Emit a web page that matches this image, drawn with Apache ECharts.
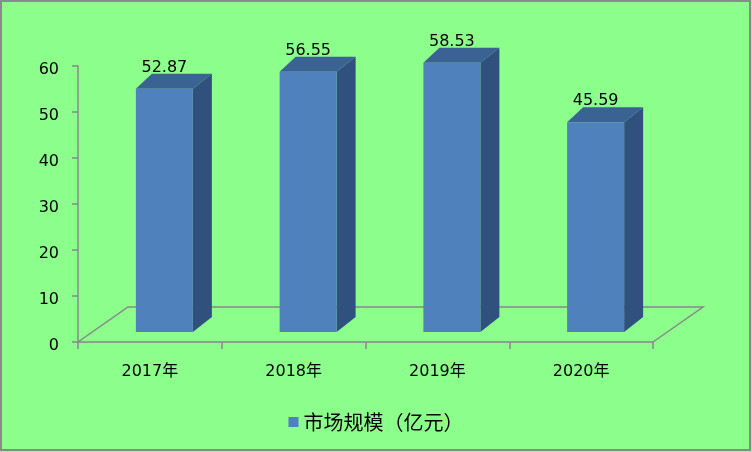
<!DOCTYPE html>
<html>
<head>
<meta charset="utf-8">
<script src="https://cdn.jsdelivr.net/npm/echarts@6/dist/echarts.min.js"></script>
<style>
html,body{margin:0;padding:0;background:#8CFE8C;}
#c{width:752px;height:452px;}
</style>
</head>
<body>
<div id="c"></div>
<script>
var categories = ['2017年', '2018年', '2019年', '2020年'];
var values = [52.87, 56.55, 58.53, 45.59];
var seriesName = '市场规模（亿元）';
var yTicks = [0, 10, 20, 30, 40, 50, 60];

var FONT = "'DejaVu Sans', 'Noto Sans CJK SC', sans-serif";
var CJK = "'Noto Sans CJK SC', sans-serif";
var FRONT = '#4F81BD', SIDE = '#30507D', TOP = '#3A6293';
var GRAY = '#888888';

var chart = echarts.init(document.getElementById('c'));

function floorItem(params, api) {
  var c0 = api.coord([0, 0]);
  var c3 = api.coord([categories.length - 1, 0]);
  var w = api.size([1, 0])[0];
  var xl = c0[0] - w / 2, xr = c3[0] + w / 2, y = c0[1];
  var dx = 50, dy = -35;
  return {
    type: 'polyline',
    shape: { points: [[xl, y], [xl + dx, y + dy], [xr + dx, y + dy], [xr, y]] },
    style: { stroke: GRAY, lineWidth: 1.5, fill: null }
  };
}

function barItem(params, api) {
  var idx = api.value(0), val = api.value(1);
  var base = api.coord([idx, 0]);
  var topPt = api.coord([idx, val]);
  var cx = base[0] + 14.5;
  var x0 = cx - 28.5, x1 = cx + 28.5;
  var yb = base[1] - 10, yt = topPt[1] - 10;
  var ddxL = 16, ddxR = 19, ddy = -15;
  return {
    type: 'group',
    children: [
      { type: 'polygon', shape: { points: [[x1, yb], [x1, yt], [x1 + ddxR, yt + ddy], [x1 + ddxR, yb + ddy]] },
        style: { fill: SIDE } },
      { type: 'polygon', shape: { points: [[x0, yt], [x0 + ddxL, yt + ddy], [x1 + ddxR, yt + ddy], [x1, yt]] },
        style: { fill: TOP } },
      { type: 'rect', shape: { x: x0, y: yt, width: x1 - x0, height: yb - yt },
        style: { fill: FRONT } },
      { type: 'text', x: cx, y: yt - 21,
        style: { text: String(val.toFixed(2)), fill: '#000', font: '16px ' + FONT, align: 'center', verticalAlign: 'middle' } }
    ]
  };
}

chart.setOption({
  backgroundColor: '#8CFE8C',
  animation: false,
  graphic: [{
    type: 'rect', z: 100, silent: true,
    shape: { x: 1, y: 1, width: 749, height: 449 },
    style: { fill: null, stroke: '#8a8a8a', lineWidth: 2 }
  }],
  grid: { left: 78, right: 99, top: 66, bottom: 110 },
  legend: {
    data: [{ name: seriesName, icon: 'rect' }],
    left: 'center', top: 407,
    itemWidth: 10, itemHeight: 10, itemGap: 6,
    textStyle: { fontSize: 20, fontFamily: CJK, color: '#000' }
  },
  xAxis: {
    type: 'category', data: categories,
    axisLine: { show: true, lineStyle: { color: GRAY, width: 1.5 } },
    axisTick: { show: true, length: 7, lineStyle: { color: GRAY, width: 1.5 } },
    axisLabel: { margin: 22, fontSize: 16, fontFamily: FONT, color: '#000' },
    splitLine: { show: false }
  },
  yAxis: {
    type: 'value', min: yTicks[0], max: yTicks[yTicks.length - 1], interval: 10,
    axisLine: { show: true, lineStyle: { color: GRAY, width: 1.5 } },
    axisTick: { show: true, length: 6, lineStyle: { color: GRAY, width: 1.5 } },
    axisLabel: {
      margin: 19, color: '#000',
      formatter: function (v) { return '{a|' + v + '}'; },
      rich: { a: { fontSize: 16, fontFamily: FONT, color: '#000', padding: [8, 0, 0, 0] } }
    },
    splitLine: { show: false }
  },
  series: [
    { type: 'custom', name: 'floor', data: [[0, 0]], renderItem: floorItem, z: 1, silent: true, legendHoverLink: false },
    { type: 'custom', name: seriesName, data: values.map(function (v, i) { return [i, v]; }),
      renderItem: barItem, itemStyle: { color: FRONT }, z: 2, encode: { x: 0, y: 1 } }
  ]
});
</script>
</body>
</html>
